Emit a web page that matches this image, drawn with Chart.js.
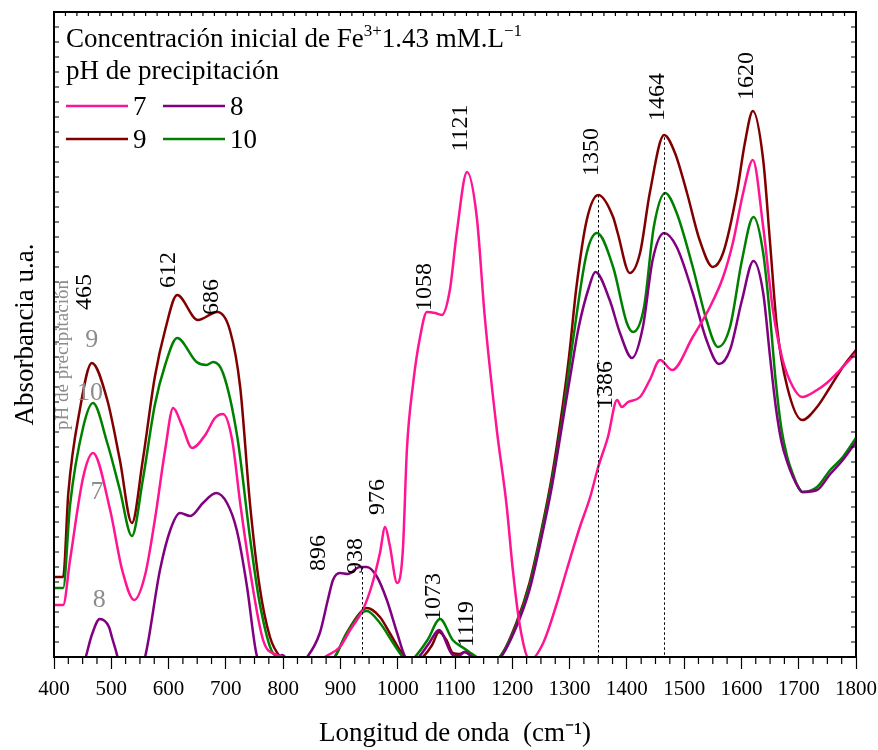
<!DOCTYPE html>
<html lang="es">
<head>
<meta charset="utf-8">
<title>Espectros de absorbancia</title>
<script src="https://cdn.jsdelivr.net/npm/chart.js@4.4.1/dist/chart.umd.min.js"></script>
<style>
  html, body { margin: 0; background: #fff; }
  canvas { display: block; }
</style>
</head>
<body>
<canvas id="spectraChart" width="878" height="750"></canvas>
<script>
// pH 7
const wn7 = [400,416,428,451,468,498,519,540,559,576,594,608,623,641,664,681,695,711,725,742,765,789,800,820,850,873,899,917,939,955,969,978,986,999,1009,1016,1027,1039,1051,1065,1077,1091,1103,1121,1138,1152,1173,1190,1201,1213,1231,1254,1278,1295,1318,1336,1350,1367,1383,1391,1402,1423,1440,1458,1479,1515,1545,1568,1585,1603,1620,1638,1655,1672,1690,1706,1732,1749,1772,1800];
const abs7 = [0.104,0.104,0.194,0.36,0.408,0.294,0.174,0.114,0.164,0.274,0.414,0.498,0.464,0.418,0.444,0.478,0.486,0.434,0.308,0.174,0.034,0.004,0,-0.02,-0.02,0,0.02,0.054,0.094,0.144,0.208,0.26,0.224,0.148,0.214,0.414,0.548,0.64,0.69,0.688,0.684,0.734,0.848,0.97,0.88,0.68,0.454,0.304,0.174,0.064,-0.006,0.028,0.108,0.174,0.26,0.32,0.38,0.44,0.514,0.5,0.51,0.52,0.554,0.594,0.574,0.64,0.70,0.76,0.828,0.928,0.994,0.86,0.694,0.594,0.54,0.52,0.534,0.548,0.574,0.608];

// pH 8
const wn8 = [400,440,454,466,480,496,501,512,525,540,559,585,603,620,638,660,683,702,719,737,752,758,780,798,820,842,864,878,887,899,913,934,946,964,981,999,1013,1025,1037,1055,1072,1096,1106,1117,1131,1160,1180,1207,1230,1252,1269,1287,1303,1316,1334,1345,1370,1388,1409,1428,1445,1465,1487,1515,1539,1561,1580,1601,1621,1638,1650,1660,1670,1680,1690,1700,1706,1732,1755,1777,1800];
const abs8 = [-0.1,-0.05,-0.006,0.044,0.076,0.06,0.04,-0.006,-0.1,-0.05,0,0.174,0.254,0.288,0.282,0.308,0.328,0.308,0.254,0.14,0.014,-0.01,-0.02,0.004,-0.02,0,0.048,0.114,0.154,0.168,0.166,0.18,0.18,0.16,0.114,0.048,0,-0.01,0,0.028,0.054,0.004,0.002,0.01,0,-0.01,0,0.06,0.134,0.244,0.34,0.464,0.574,0.66,0.74,0.77,0.714,0.648,0.598,0.66,0.794,0.848,0.82,0.728,0.634,0.586,0.614,0.714,0.792,0.728,0.6,0.5,0.43,0.39,0.36,0.338,0.33,0.334,0.366,0.394,0.43];

// pH 9
const wn9 = [400,416,425,445,466,493,515,536,555,576,594,615,651,685,707,725,742,759,777,795,830,870,890,911,934,946,969,986,1007,1013,1030,1044,1060,1072,1085,1096,1108,1117,1131,1150,1178,1207,1230,1252,1269,1287,1299,1312,1330,1350,1376,1384,1405,1423,1440,1465,1484,1505,1527,1550,1568,1592,1606,1620,1638,1650,1662,1680,1706,1732,1755,1777,1800];
const abs9 = [0.16,0.16,0.328,0.494,0.588,0.514,0.394,0.268,0.394,0.56,0.654,0.724,0.674,0.69,0.654,0.54,0.308,0.14,0.04,0,-0.02,-0.02,0,0.048,0.088,0.098,0.08,0.048,0.008,0,-0.01,0,0.024,0.05,0.034,0.008,0.006,0.01,0,-0.01,0,0.068,0.148,0.26,0.36,0.494,0.6,0.74,0.874,0.924,0.88,0.848,0.768,0.808,0.928,1.044,1.008,0.928,0.834,0.78,0.808,0.928,1.028,1.092,0.994,0.828,0.66,0.54,0.474,0.5,0.54,0.58,0.614];

// pH 10
const wn10 = [400,416,428,451,468,493,515,536,555,576,594,615,649,666,678,695,720,742,759,782,795,830,870,890,911,946,969,992,1009,1020,1030,1052,1074,1096,1115,1125,1138,1160,1178,1207,1230,1252,1269,1287,1306,1330,1348,1376,1400,1411,1430,1447,1467,1487,1515,1539,1559,1580,1601,1621,1638,1650,1660,1670,1680,1690,1700,1707,1732,1755,1777,1800];
const abs10 = [0.138,0.138,0.304,0.46,0.508,0.428,0.334,0.242,0.354,0.504,0.584,0.638,0.59,0.584,0.59,0.568,0.44,0.24,0.108,0.008,0,-0.02,-0.02,0,0.048,0.092,0.068,0.028,0,-0.01,0,0.034,0.076,0.034,0.018,0.01,0,-0.01,0,0.064,0.142,0.254,0.35,0.474,0.634,0.808,0.848,0.78,0.668,0.65,0.70,0.86,0.928,0.888,0.78,0.674,0.62,0.66,0.794,0.88,0.808,0.68,0.55,0.455,0.4,0.365,0.338,0.33,0.34,0.374,0.40,0.438];

const phLevels = ['7', '8', '9', '10'];
const phColors = ['#ff1493', '#800080', '#800000', '#008000'];

// bandas marcadas (cm-1) y altura del rótulo en u.a.
const peakWn = [465, 612, 686, 896, 938, 976, 1058, 1073, 1119, 1121, 1350, 1386, 1464, 1620];
const peakLabelY = [0.73, 0.774, 0.72, 0.208, 0.202, 0.32, 0.74, 0.12, 0.066, 1.058, 1.01, 0.544, 1.12, 1.162];
const peakNudge = { 896: -13, 1386: -7, 1119: 7 };

// líneas punteadas: banda y serie sobre la que terminan
const guideWn = [938, 1350, 1464];
const guideSeries = [1, 2, 2];

const FONT = "'Liberation Serif', 'Times New Roman', serif";
const seriesWn = [wn7, wn8, wn9, wn10];
const seriesAbs = [abs7, abs8, abs9, abs10];

function valueAt(wn, abs, x) {
  for (let i = 1; i < wn.length; i++) {
    if (x <= wn[i]) {
      const t = (x - wn[i - 1]) / (wn[i] - wn[i - 1]);
      return abs[i - 1] + t * (abs[i] - abs[i - 1]);
    }
  }
  return abs[abs.length - 1];
}

// orden de dibujo: 7, 8, 10, 9
const drawOrder = [0, 1, 3, 2];
const datasets = drawOrder.map(i => ({
  label: phLevels[i],
  data: seriesWn[i].map((x, k) => ({ x: x, y: seriesAbs[i][k] })),
  borderColor: phColors[i],
  borderWidth: 2.5,
  pointRadius: 0,
  fill: false,
  cubicInterpolationMode: 'monotone',
  clip: 0
}));

const framePlugin = {
  id: 'frame',
  afterDatasetsDraw(chart) {
    const { ctx, chartArea: a, scales: { x, y } } = chart;
    ctx.save();

    // líneas guía punteadas
    ctx.strokeStyle = '#000';
    ctx.lineWidth = 1;
    ctx.setLineDash([2.5, 2.5]);
    guideWn.forEach((w, i) => {
      const s = guideSeries[i];
      const top = valueAt(seriesWn[s], seriesAbs[s], w);
      const px = Math.round(x.getPixelForValue(w)) + 0.5;
      ctx.beginPath();
      ctx.moveTo(px, y.getPixelForValue(top));
      ctx.lineTo(px, a.bottom);
      ctx.stroke();
    });
    ctx.setLineDash([]);

    // marco
    ctx.lineWidth = 2;
    ctx.strokeRect(a.left, a.top, a.right - a.left, a.bottom - a.top);

    // marcas menores
    ctx.lineWidth = 1.2;
    ctx.beginPath();
    for (let v = 400; v <= 1800; v += 25) {
      if (v % 100 === 0) continue;
      const px = x.getPixelForValue(v);
      ctx.moveTo(px, a.bottom);
      ctx.lineTo(px, a.bottom + 7);
    }
    for (let v = 400; v <= 1800; v += 20) {
      const px = x.getPixelForValue(v);
      ctx.moveTo(px, a.top);
      ctx.lineTo(px, a.top + 4);
    }
    for (let v = 0.03; v < 1.29; v += 0.03) {
      const py = y.getPixelForValue(v);
      ctx.moveTo(a.left, py);
      ctx.lineTo(a.left + 5, py);
      ctx.moveTo(a.right, py);
      ctx.lineTo(a.right - 5, py);
    }
    ctx.stroke();

    // rótulos de bandas
    ctx.fillStyle = '#000';
    ctx.font = '24px ' + FONT;
    ctx.textAlign = 'center';
    ctx.textBaseline = 'alphabetic';
    peakWn.forEach((w, i) => {
      ctx.save();
      ctx.translate(x.getPixelForValue(w) + (peakNudge[w] || 0), y.getPixelForValue(peakLabelY[i]));
      ctx.rotate(-Math.PI / 2);
      ctx.fillText(String(w), 0, 0);
      ctx.restore();
    });

    // rótulos grises por pH
    ctx.fillStyle = '#8c8c8c';
    ctx.font = '26px ' + FONT;
    ctx.textBaseline = 'middle';
    const grayTags = [['9', 466, 0.634], ['10', 463, 0.528], ['7', 475, 0.33], ['8', 479, 0.114]];
    grayTags.forEach(([t, w, v]) => ctx.fillText(t, x.getPixelForValue(w), y.getPixelForValue(v)));
    ctx.save();
    ctx.font = '19px ' + FONT;
    ctx.translate(x.getPixelForValue(416), y.getPixelForValue(0.604));
    ctx.rotate(-Math.PI / 2);
    ctx.fillText('pH de precipitación', 0, 0);
    ctx.restore();

    // leyenda
    ctx.fillStyle = '#000';
    ctx.textAlign = 'left';
    ctx.textBaseline = 'alphabetic';
    let cx = a.left + 12;
    const parts = [['Concentración inicial de Fe', 0], ['3+', 1], ['1.43 mM.L', 0], ['\u22121', 1]];
    parts.forEach(([t, sup]) => {
      ctx.font = (sup ? '17px ' : '27px ') + FONT;
      ctx.fillText(t, cx, sup ? 36 : 47);
      cx += ctx.measureText(t).width;
    });
    ctx.font = '27px ' + FONT;
    ctx.fillText('pH de precipitación', a.left + 12, 79);

    const rows = [[0, 1], [2, 3]];
    ctx.font = '27px ' + FONT;
    rows.forEach((row, r) => {
      const ly = 106 + r * 33;
      row.forEach((i, c) => {
        const lx = a.left + 12 + c * 97;
        ctx.strokeStyle = phColors[i];
        ctx.lineWidth = 2.5;
        ctx.beginPath();
        ctx.moveTo(lx, ly);
        ctx.lineTo(lx + 62, ly);
        ctx.stroke();
        ctx.fillText(phLevels[i], lx + 67, ly + 9);
      });
    });

    ctx.restore();
  }
};

new Chart(document.getElementById('spectraChart'), {
  type: 'line',
  data: { datasets: datasets },
  options: {
    responsive: false,
    animation: false,
    layout: { padding: { top: 12, right: 22, left: 0, bottom: 0 } },
    plugins: { legend: { display: false }, tooltip: { enabled: false } },
    scales: {
      x: {
        type: 'linear',
        min: 400,
        max: 1800,
        afterFit: s => { s.height = 93; s.paddingRight = 0; s.paddingLeft = 0; },
        border: { display: true, color: '#000', width: 2 },
        grid: { drawOnChartArea: false, tickLength: 12, tickColor: '#000', tickWidth: 1.2 },
        ticks: { stepSize: 100, autoSkip: false, maxRotation: 0, padding: 8, color: '#000', font: { family: FONT, size: 21 }, callback: v => String(v) },
        title: { display: true, text: 'Longitud de onda  (cm\u207B\u00B9)', color: '#000', font: { family: FONT, size: 27 }, padding: { top: 0, bottom: 0 } }
      },
      y: {
        min: 0,
        max: 1.29,
        afterFit: s => { s.width = 54; },
        border: { display: true, color: '#000', width: 2 },
        grid: { drawOnChartArea: false, drawTicks: false },
        ticks: { display: false },
        title: { display: true, text: 'Absorbancia u.a.', color: '#000', font: { family: FONT, size: 27 }, padding: { top: 10, bottom: 0 } }
      }
    }
  },
  plugins: [framePlugin]
});
</script>
</body>
</html>
